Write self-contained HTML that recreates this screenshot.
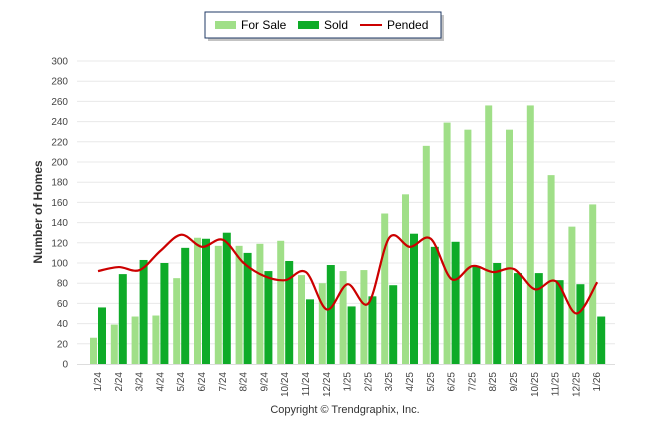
<!DOCTYPE html>
<html><head><meta charset="utf-8"><style>
body{margin:0;background:#fff;width:646px;height:434px;overflow:hidden;font-family:"Liberation Sans",sans-serif}
svg text{font-family:"Liberation Sans",sans-serif}
</style></head><body>
<svg id="chart" width="646" height="434">
<g>
<rect x="208" y="15" width="236" height="26" fill="#888" opacity="0.5"/>
<rect x="205" y="12" width="236" height="26" fill="#fff" stroke="#1f3864" stroke-width="1"/>
<rect x="215" y="21" width="21" height="8" fill="#a0df88"/>
<text x="241" y="29" font-size="12" fill="#000">For Sale</text>
<rect x="298" y="21" width="21" height="8" fill="#0eab28"/>
<text x="324" y="29" font-size="12" fill="#000">Sold</text>
<line x1="360" y1="25" x2="382" y2="25" stroke="#cc0000" stroke-width="2"/>
<text x="387" y="29" font-size="12" fill="#000">Pended</text>
</g>
<text transform="translate(42,212) rotate(-90)" text-anchor="middle" font-size="12" font-weight="bold" fill="#333">Number of Homes</text>
<text x="345" y="413" text-anchor="middle" font-size="11" fill="#333">Copyright © Trendgraphix, Inc.</text>
<g id="grid"></g><g id="bars"></g><g id="line"></g><g id="xl"></g>
</svg>
<script>
const categories=["1/24","2/24","3/24","4/24","5/24","6/24","7/24","8/24","9/24","10/24","11/24","12/24","1/25","2/25","3/25","4/25","5/25","6/25","7/25","8/25","9/25","10/25","11/25","12/25","1/26"];
const forSale=[26,39,47,48,85,125,117,117,119,122,88,80,92,93,149,168,216,239,232,256,232,256,187,136,158];
const sold=[56,89,103,100,115,124,130,110,92,102,64,98,57,67,78,129,116,121,97,100,90,90,83,79,47];
const pended=[92,96,93,112,128,116,123,100,87,83,91,54,79,60,125,116,124,84,97,91,94,74,82,50,81];
const yTicks=[0,20,40,60,80,100,120,140,160,180,200,220,240,260,280,300];
const NS="http://www.w3.org/2000/svg";
const y0=364,yTop=61,yMax=300;
function y(v){return y0-(v/yMax)*(y0-yTop);}
function x(i){return 98+i*20.8;}
function mk(t,a,p){const e=document.createElementNS(NS,t);for(const k in a)e.setAttribute(k,a[k]);p.appendChild(e);return e;}
const grid=document.getElementById('grid'),bars=document.getElementById('bars'),line=document.getElementById('line'),xl=document.getElementById('xl');
yTicks.forEach(v=>{
 if(v>0){const g=mk('line',{x1:77,x2:615,y1:y(v),y2:y(v),stroke:'#e8e8e8','stroke-width':1},grid);
 
 }
 const t=mk('text',{x:68,y:y(v)+3.5,'text-anchor':'end','font-size':10,fill:'#444'},grid);t.textContent=v;
 
 
});
const ax=mk('line',{x1:77,x2:615,y1:364.5,y2:364.5,stroke:'#ddd'},grid);


categories.forEach((c,i)=>{
 const cx=x(i);
 const a=mk('rect',{x:cx-8,y:y(forSale[i]),width:7,height:y0-y(forSale[i]),fill:'#a0df88'},bars);
 
 
 const b=mk('rect',{x:cx,y:y(sold[i]),width:8,height:y0-y(sold[i]),fill:'#0eab28'},bars);
 
 
 const t=mk('text',{transform:`translate(${cx+3},372) rotate(-90)`,'text-anchor':'end','font-size':10,fill:'#444'},xl);t.textContent=c;
 
 
});
const pts=pended.map((v,i)=>[x(i),y(v)]);
let d=`M${pts[0][0]},${pts[0][1]}`;
for(let i=0;i<pts.length-1;i++){
 const p0=pts[Math.max(0,i-1)],p1=pts[i],p2=pts[i+1],p3=pts[Math.min(pts.length-1,i+2)];
 const c1=[p1[0]+(p2[0]-p0[0])/6,p1[1]+(p2[1]-p0[1])/6],c2=[p2[0]-(p3[0]-p1[0])/6,p2[1]-(p3[1]-p1[1])/6];
 d+=` C${c1[0]},${c1[1]} ${c2[0]},${c2[1]} ${p2[0]},${p2[1]}`;
}
const pl=mk('path',{d:d,fill:'none',stroke:'#cc0000','stroke-width':2.2},line);


</script>
</body></html>
